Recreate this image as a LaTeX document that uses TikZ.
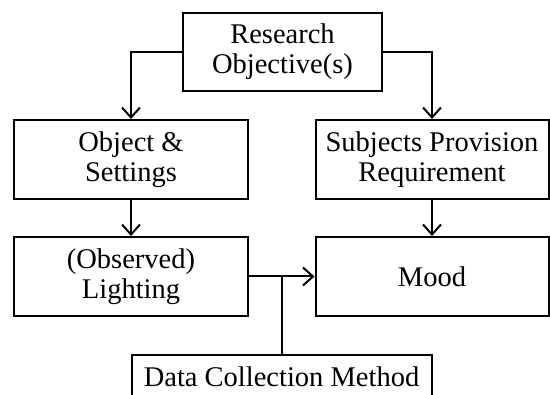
\documentclass[tikz,border=0pt]{standalone}
\usepackage{fontspec}
\setmainfont{Liberation Serif}
\usepackage{tikz}
\usetikzlibrary{arrows.meta, positioning}

\begin{document}
\begin{tikzpicture}[x=1pt, y=-1pt,
    box/.style={draw, line width=2pt, align=center, inner sep=0pt,
        font=\fontsize{28.5}{30}\selectfont, minimum width=234pt, minimum height=79pt},
    link/.style={line width=2pt},
    flow/.style={link, -{Straight Barb[length=10pt, width=18pt, line width=2pt]}}
]
\useasboundingbox (0,0) rectangle (550,395);
\clip (0,0) rectangle (550,395);

% Boxes
\node[box, minimum width=199pt, minimum height=78pt] (research) at (282.5,52) {Research\\Objective(s)};
\node[box] (object) at (131,159.5) {Object \&\\Settings};
\node[box, minimum width=233pt] (subjects) at (432,159.5) {Subjects Provision\\Requirement};
\node[box] (lighting) at (131,276.5) {(Observed)\\Lighting};
\node[box, minimum width=233pt] (mood) at (432,276.5) {Mood};
\node[box, minimum width=300pt, minimum height=44pt, anchor=north] (data) at (281.5,354) {Data Collection Method};

% Arrows
\draw[flow] (research.west) -| (object.north);
\draw[flow] (research.east) -| (subjects.north);
\draw[flow] (object) -- (lighting);
\draw[flow] (subjects) -- (mood);
\draw[flow] (lighting) -- (mood);
\draw[link] (data.north) -- (data.north |- lighting.east);
\end{tikzpicture}
\end{document}
